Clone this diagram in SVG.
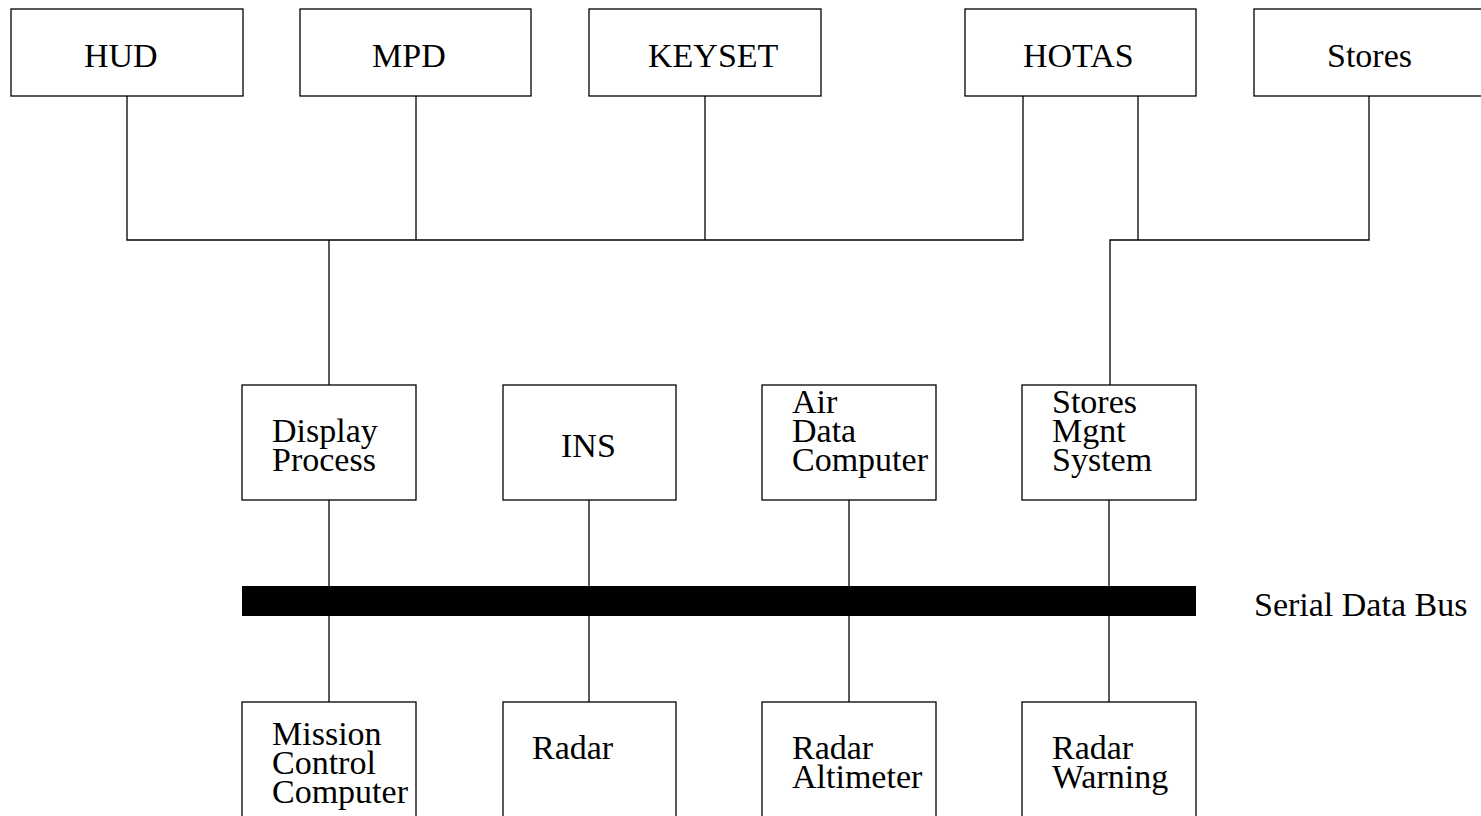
<svg xmlns="http://www.w3.org/2000/svg" width="1481" height="816" viewBox="0 0 1481 816">
<style>
.box{fill:#fff;stroke:#000;stroke-width:1.3}
.t{font-family:"Liberation Serif","Times New Roman",serif;font-size:34px;fill:#000}
.c{fill:none;stroke:#000;stroke-width:1.3}
</style>
<rect width="1481" height="816" fill="#fff"/>
<g id="connectors">
<path class="c" d="M127,96V240H1023V96M416,96V240M705,96V240M329,240V385"/>
<path class="c" d="M1138,96V240M1369,96V240H1110V385"/>
<path class="c" d="M329,500V702M589,500V702M849,500V702M1109,500V702"/>
</g>
<g id="bus"><rect x="242" y="586" width="954" height="30" fill="#000"/>
<text class="t" x="1254" y="616">Serial Data Bus</text></g>
<g id="hud"><rect class="box" x="11" y="9" width="232" height="87"/><text class="t" x="84" y="67">HUD</text></g>
<g id="mpd"><rect class="box" x="300" y="9" width="231" height="87"/><text class="t" x="372" y="67">MPD</text></g>
<g id="keyset"><rect class="box" x="589" y="9" width="232" height="87"/><text class="t" x="648" y="67">KEYSET</text></g>
<g id="hotas"><rect class="box" x="965" y="9" width="231" height="87"/><text class="t" x="1023" y="67">HOTAS</text></g>
<g id="stores"><rect class="box" x="1254" y="9" width="232" height="87"/><text class="t" x="1327" y="67">Stores</text></g>
<g id="display"><rect class="box" x="242" y="385" width="174" height="115"/><text class="t" x="272" y="442">Display<tspan x="272" dy="28.5">Process</tspan></text></g>
<g id="ins"><rect class="box" x="503" y="385" width="173" height="115"/><text class="t" x="561" y="457">INS</text></g>
<g id="adc"><rect class="box" x="762" y="385" width="174" height="115"/><text class="t" x="792" y="413">Air<tspan x="792" dy="29">Data</tspan><tspan x="792" dy="29">Computer</tspan></text></g>
<g id="sms"><rect class="box" x="1022" y="385" width="174" height="115"/><text class="t" x="1052" y="413">Stores<tspan x="1052" dy="29">Mgnt</tspan><tspan x="1052" dy="29">System</tspan></text></g>
<g id="mcc"><rect class="box" x="242" y="702" width="174" height="120"/><text class="t" x="272" y="745">Mission<tspan x="272" dy="29">Control</tspan><tspan x="272" dy="29">Computer</tspan></text></g>
<g id="radar"><rect class="box" x="503" y="702" width="173" height="120"/><text class="t" x="532" y="759">Radar</text></g>
<g id="ralt"><rect class="box" x="762" y="702" width="174" height="120"/><text class="t" x="792" y="759">Radar<tspan x="792" dy="29">Altimeter</tspan></text></g>
<g id="rwarn"><rect class="box" x="1022" y="702" width="174" height="120"/><text class="t" x="1052" y="759">Radar<tspan x="1052" dy="29">Warning</tspan></text></g>
</svg>
